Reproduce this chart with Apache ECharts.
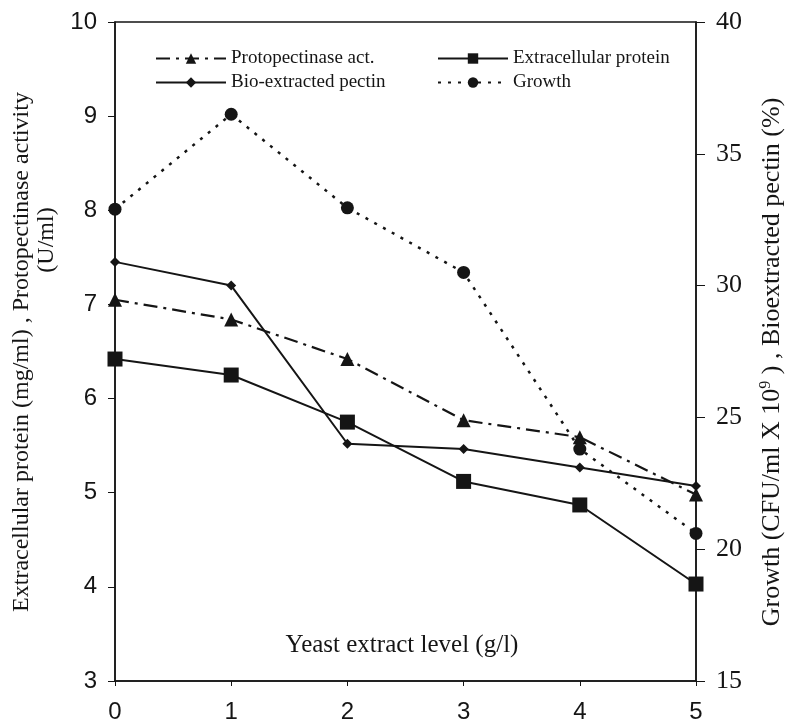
<!DOCTYPE html>
<html>
<head>
<meta charset="utf-8">
<script src="https://cdn.jsdelivr.net/npm/echarts@6/dist/echarts.min.js"></script>
<style>
  html, body { margin: 0; padding: 0; background: #fff; }
  #main { width: 794px; height: 724px; }
</style>
</head>
<body>
<div id="main"></div>
<script>
var yeastLevels = [0, 1, 2, 3, 4, 5];
var protopectinase = [7.05, 6.84, 6.42, 5.77, 5.59, 4.98];
var extracellularProtein = [6.42, 6.25, 5.75, 5.12, 4.87, 4.03];
var bioPectin = [30.9, 30.0, 24.0, 23.8, 23.1, 22.4];
var growth = [32.9, 36.5, 32.95, 30.5, 23.8, 20.6];

function pairs(vals) {
  return yeastLevels.map(function (x, i) { return [x, vals[i]]; });
}

var ink = '#151515';
var serif = '"Liberation Serif", "DejaVu Serif", serif';
var sans = '"Liberation Sans", Arial, sans-serif';

var myChart = echarts.init(document.getElementById('main'));

myChart.setOption({
  backgroundColor: '#fff',
  animation: false,
  grid: {
    left: 115, right: 98, top: 22, bottom: 43,
    show: true, borderColor: ink, borderWidth: 1.5, backgroundColor: 'transparent'
  },
  legend: [
    {
      orient: 'vertical', left: 150, top: 44, itemGap: 5, itemWidth: 70, itemHeight: 13,
      textStyle: { fontFamily: serif, fontSize: 19, color: ink },
      data: ['Protopectinase act.', 'Bio-extracted pectin']
    },
    {
      orient: 'vertical', left: 432, top: 44, itemGap: 5, itemWidth: 70, itemHeight: 13,
      textStyle: { fontFamily: serif, fontSize: 19, color: ink },
      data: ['Extracellular protein', 'Growth']
    }
  ],
  xAxis: {
    type: 'value', min: 0, max: 5, interval: 1,
    axisLine: { show: true, lineStyle: { color: ink, width: 1.5 } },
    axisTick: { show: true, length: 5, lineStyle: { color: ink } },
    axisLabel: { fontFamily: sans, fontSize: 24, color: ink, margin: 19 },
    splitLine: { show: false }
  },
  yAxis: [
    {
      type: 'value', min: 3, max: 10, interval: 1, position: 'left',
      axisLine: { show: true, lineStyle: { color: ink, width: 1.5 } },
      axisTick: { show: true, length: 7, lineStyle: { color: ink } },
      axisLabel: { fontFamily: sans, fontSize: 24, color: ink, margin: 18 },
      splitLine: { show: false }
    },
    {
      type: 'value', min: 15, max: 40, interval: 5, position: 'right',
      axisLine: { show: true, lineStyle: { color: ink, width: 1.5 } },
      axisTick: { show: true, length: 9, lineStyle: { color: ink } },
      axisLabel: { fontFamily: serif, fontSize: 26, color: ink, margin: 20 },
      splitLine: { show: false }
    }
  ],
  graphic: [
    {
      type: 'text', x: 402, y: 645,
      style: {
        text: 'Yeast extract level (g/l)', font: '25px ' + serif, fill: ink,
        align: 'center', verticalAlign: 'middle'
      }
    },
    {
      type: 'text', x: 22, y: 352,
      style: {
        text: 'Extracellular protein (mg/ml) , Protopectinase activity',
        font: '24px ' + serif, fill: ink, align: 'center', verticalAlign: 'middle'
      },
      rotation: Math.PI / 2
    },
    {
      type: 'text', x: 47, y: 240,
      style: { text: '(U/ml)', font: '24px ' + serif, fill: ink, align: 'center', verticalAlign: 'middle' },
      rotation: Math.PI / 2
    },
    {
      type: 'text', x: 772, y: 362,
      style: {
        text: 'Growth (CFU/ml X 10{sup|9} ) , Bioextracted pectin (%)',
        font: '26px ' + serif, fill: ink, align: 'center', verticalAlign: 'middle',
        rich: { sup: { fontSize: 16, fontFamily: serif, fill: ink, verticalAlign: 'top', padding: [0, 0, 12, 0] } }
      },
      rotation: Math.PI / 2
    }
  ],
  series: [
    {
      name: 'Protopectinase act.', type: 'line', yAxisIndex: 0,
      data: pairs(protopectinase),
      symbol: 'triangle', symbolSize: 14,
      itemStyle: { color: ink },
      lineStyle: { color: ink, width: 2.2, type: [14, 6, 3, 6] }
    },
    {
      name: 'Extracellular protein', type: 'line', yAxisIndex: 0,
      data: pairs(extracellularProtein),
      symbol: 'rect', symbolSize: 15,
      itemStyle: { color: ink },
      lineStyle: { color: ink, width: 2 }
    },
    {
      name: 'Bio-extracted pectin', type: 'line', yAxisIndex: 1,
      data: pairs(bioPectin),
      symbol: 'diamond', symbolSize: 10,
      itemStyle: { color: ink },
      lineStyle: { color: ink, width: 2 }
    },
    {
      name: 'Growth', type: 'line', yAxisIndex: 1,
      data: pairs(growth),
      symbol: 'circle', symbolSize: 13,
      itemStyle: { color: ink },
      lineStyle: { color: ink, width: 2.5, type: [3, 7] }
    }
  ]
});
</script>
</body>
</html>
